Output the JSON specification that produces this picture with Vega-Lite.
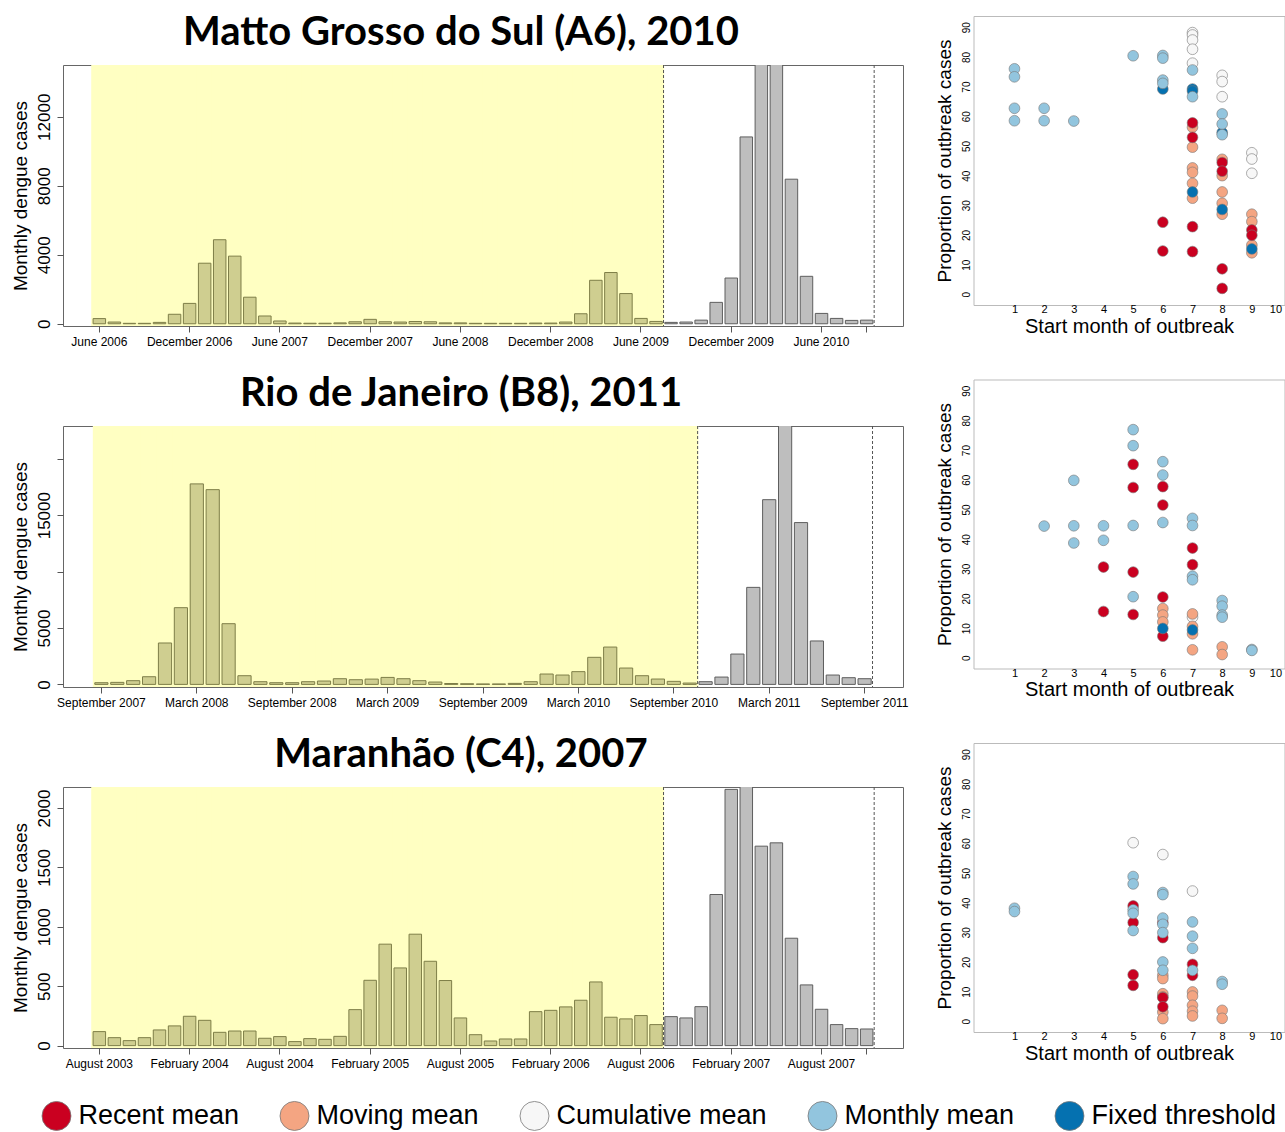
{
"$schema": "https://vega.github.io/schema/vega-lite/v6.json",
"padding": {"left": 10, "top": 13, "right": 0, "bottom": 0},
"background": "white",
"config": {
  "font": "Liberation Sans",
  "axis": {"labelFont": "Liberation Sans", "titleFont": "Liberation Sans", "labelColor": "black", "titleColor": "black", "titleFontWeight": "normal", "grid": false, "domain": false}
},
"datasets": {
"ms": [
{"month":"2006-06","cases":300,"period":"baseline"},{"month":"2006-07","cases":100,"period":"baseline"},{"month":"2006-08","cases":25,"period":"baseline"},{"month":"2006-09","cases":25,"period":"baseline"},{"month":"2006-10","cases":80,"period":"baseline"},{"month":"2006-11","cases":550,"period":"baseline"},{"month":"2006-12","cases":1180,"period":"baseline"},
{"month":"2007-01","cases":3510,"period":"baseline"},{"month":"2007-02","cases":4870,"period":"baseline"},{"month":"2007-03","cases":3920,"period":"baseline"},{"month":"2007-04","cases":1540,"period":"baseline"},{"month":"2007-05","cases":450,"period":"baseline"},{"month":"2007-06","cases":160,"period":"baseline"},{"month":"2007-07","cases":40,"period":"baseline"},{"month":"2007-08","cases":30,"period":"baseline"},{"month":"2007-09","cases":30,"period":"baseline"},{"month":"2007-10","cases":50,"period":"baseline"},{"month":"2007-11","cases":115,"period":"baseline"},{"month":"2007-12","cases":255,"period":"baseline"},
{"month":"2008-01","cases":115,"period":"baseline"},{"month":"2008-02","cases":100,"period":"baseline"},{"month":"2008-03","cases":130,"period":"baseline"},{"month":"2008-04","cases":115,"period":"baseline"},{"month":"2008-05","cases":50,"period":"baseline"},{"month":"2008-06","cases":50,"period":"baseline"},{"month":"2008-07","cases":25,"period":"baseline"},{"month":"2008-08","cases":25,"period":"baseline"},{"month":"2008-09","cases":25,"period":"baseline"},{"month":"2008-10","cases":25,"period":"baseline"},{"month":"2008-11","cases":40,"period":"baseline"},{"month":"2008-12","cases":40,"period":"baseline"},
{"month":"2009-01","cases":100,"period":"baseline"},{"month":"2009-02","cases":580,"period":"baseline"},{"month":"2009-03","cases":2520,"period":"baseline"},{"month":"2009-04","cases":2970,"period":"baseline"},{"month":"2009-05","cases":1750,"period":"baseline"},{"month":"2009-06","cases":310,"period":"baseline"},{"month":"2009-07","cases":135,"period":"baseline"},
{"month":"2009-08","cases":80,"period":"outbreak"},{"month":"2009-09","cases":100,"period":"outbreak"},{"month":"2009-10","cases":210,"period":"outbreak"},{"month":"2009-11","cases":1240,"period":"outbreak"},{"month":"2009-12","cases":2650,"period":"outbreak"},
{"month":"2010-01","cases":10830,"period":"outbreak"},{"month":"2010-02","cases":15600,"period":"outbreak"},{"month":"2010-03","cases":15900,"period":"outbreak"},{"month":"2010-04","cases":8380,"period":"outbreak"},{"month":"2010-05","cases":2750,"period":"outbreak"},{"month":"2010-06","cases":600,"period":"outbreak"},{"month":"2010-07","cases":310,"period":"outbreak"},{"month":"2010-08","cases":195,"period":"outbreak"},{"month":"2010-09","cases":210,"period":"outbreak"}
],
"rj": [
{"month":"2007-09","cases":150,"period":"baseline"},{"month":"2007-10","cases":180,"period":"baseline"},{"month":"2007-11","cases":330,"period":"baseline"},{"month":"2007-12","cases":680,"period":"baseline"},
{"month":"2008-01","cases":3670,"period":"baseline"},{"month":"2008-02","cases":6800,"period":"baseline"},{"month":"2008-03","cases":17770,"period":"baseline"},{"month":"2008-04","cases":17260,"period":"baseline"},{"month":"2008-05","cases":5380,"period":"baseline"},{"month":"2008-06","cases":770,"period":"baseline"},{"month":"2008-07","cases":240,"period":"baseline"},{"month":"2008-08","cases":150,"period":"baseline"},{"month":"2008-09","cases":150,"period":"baseline"},{"month":"2008-10","cases":240,"period":"baseline"},{"month":"2008-11","cases":300,"period":"baseline"},{"month":"2008-12","cases":505,"period":"baseline"},
{"month":"2009-01","cases":415,"period":"baseline"},{"month":"2009-02","cases":470,"period":"baseline"},{"month":"2009-03","cases":620,"period":"baseline"},{"month":"2009-04","cases":505,"period":"baseline"},{"month":"2009-05","cases":330,"period":"baseline"},{"month":"2009-06","cases":210,"period":"baseline"},{"month":"2009-07","cases":80,"period":"baseline"},{"month":"2009-08","cases":60,"period":"baseline"},{"month":"2009-09","cases":40,"period":"baseline"},{"month":"2009-10","cases":40,"period":"baseline"},{"month":"2009-11","cases":90,"period":"baseline"},{"month":"2009-12","cases":240,"period":"baseline"},
{"month":"2010-01","cases":920,"period":"baseline"},{"month":"2010-02","cases":830,"period":"baseline"},{"month":"2010-03","cases":1130,"period":"baseline"},{"month":"2010-04","cases":2400,"period":"baseline"},{"month":"2010-05","cases":3310,"period":"baseline"},{"month":"2010-06","cases":1450,"period":"baseline"},{"month":"2010-07","cases":770,"period":"baseline"},{"month":"2010-08","cases":475,"period":"baseline"},{"month":"2010-09","cases":270,"period":"baseline"},{"month":"2010-10","cases":120,"period":"baseline"},
{"month":"2010-11","cases":240,"period":"outbreak"},{"month":"2010-12","cases":650,"period":"outbreak"},
{"month":"2011-01","cases":2690,"period":"outbreak"},{"month":"2011-02","cases":8600,"period":"outbreak"},{"month":"2011-03","cases":16370,"period":"outbreak"},{"month":"2011-04","cases":23500,"period":"outbreak"},{"month":"2011-05","cases":14340,"period":"outbreak"},{"month":"2011-06","cases":3850,"period":"outbreak"},{"month":"2011-07","cases":830,"period":"outbreak"},{"month":"2011-08","cases":595,"period":"outbreak"},{"month":"2011-09","cases":505,"period":"outbreak"}
],
"ma": [
{"month":"2003-08","cases":118,"period":"baseline"},{"month":"2003-09","cases":67,"period":"baseline"},{"month":"2003-10","cases":42,"period":"baseline"},{"month":"2003-11","cases":67,"period":"baseline"},{"month":"2003-12","cases":132,"period":"baseline"},
{"month":"2004-01","cases":166,"period":"baseline"},{"month":"2004-02","cases":247,"period":"baseline"},{"month":"2004-03","cases":213,"period":"baseline"},{"month":"2004-04","cases":112,"period":"baseline"},{"month":"2004-05","cases":123,"period":"baseline"},{"month":"2004-06","cases":123,"period":"baseline"},{"month":"2004-07","cases":62,"period":"baseline"},{"month":"2004-08","cases":76,"period":"baseline"},{"month":"2004-09","cases":34,"period":"baseline"},{"month":"2004-10","cases":59,"period":"baseline"},{"month":"2004-11","cases":53,"period":"baseline"},{"month":"2004-12","cases":78,"period":"baseline"},
{"month":"2005-01","cases":303,"period":"baseline"},{"month":"2005-02","cases":550,"period":"baseline"},{"month":"2005-03","cases":854,"period":"baseline"},{"month":"2005-04","cases":654,"period":"baseline"},{"month":"2005-05","cases":938,"period":"baseline"},{"month":"2005-06","cases":710,"period":"baseline"},{"month":"2005-07","cases":548,"period":"baseline"},{"month":"2005-08","cases":233,"period":"baseline"},{"month":"2005-09","cases":92,"period":"baseline"},{"month":"2005-10","cases":39,"period":"baseline"},{"month":"2005-11","cases":56,"period":"baseline"},{"month":"2005-12","cases":56,"period":"baseline"},
{"month":"2006-01","cases":286,"period":"baseline"},{"month":"2006-02","cases":297,"period":"baseline"},{"month":"2006-03","cases":326,"period":"baseline"},{"month":"2006-04","cases":382,"period":"baseline"},{"month":"2006-05","cases":536,"period":"baseline"},{"month":"2006-06","cases":239,"period":"baseline"},{"month":"2006-07","cases":225,"period":"baseline"},{"month":"2006-08","cases":253,"period":"baseline"},{"month":"2006-09","cases":177,"period":"baseline"},
{"month":"2006-10","cases":244,"period":"outbreak"},{"month":"2006-11","cases":233,"period":"outbreak"},{"month":"2006-12","cases":328,"period":"outbreak"},
{"month":"2007-01","cases":1272,"period":"outbreak"},{"month":"2007-02","cases":2157,"period":"outbreak"},{"month":"2007-03","cases":2250,"period":"outbreak"},{"month":"2007-04","cases":1679,"period":"outbreak"},{"month":"2007-05","cases":1707,"period":"outbreak"},{"month":"2007-06","cases":904,"period":"outbreak"},{"month":"2007-07","cases":511,"period":"outbreak"},{"month":"2007-08","cases":306,"period":"outbreak"},{"month":"2007-09","cases":177,"period":"outbreak"},{"month":"2007-10","cases":143,"period":"outbreak"},{"month":"2007-11","cases":140,"period":"outbreak"}
],
"ms_pts": [
{"start_month":7,"pct":88.2,"method":"Cumulative mean"},{"start_month":7,"pct":87.4,"method":"Cumulative mean"},{"start_month":7,"pct":85.7,"method":"Cumulative mean"},{"start_month":7,"pct":82.6,"method":"Cumulative mean"},{"start_month":7,"pct":77.9,"method":"Cumulative mean"},{"start_month":8,"pct":73.8,"method":"Cumulative mean"},{"start_month":8,"pct":71.7,"method":"Cumulative mean"},{"start_month":8,"pct":66.6,"method":"Cumulative mean"},{"start_month":9,"pct":47.7,"method":"Cumulative mean"},{"start_month":9,"pct":45.6,"method":"Cumulative mean"},{"start_month":9,"pct":40.8,"method":"Cumulative mean"},
{"start_month":7,"pct":56.3,"method":"Moving mean"},{"start_month":7,"pct":49.6,"method":"Moving mean"},{"start_month":7,"pct":42.6,"method":"Moving mean"},{"start_month":7,"pct":41.1,"method":"Moving mean"},{"start_month":7,"pct":37.4,"method":"Moving mean"},{"start_month":7,"pct":32.4,"method":"Moving mean"},{"start_month":8,"pct":45.5,"method":"Moving mean"},{"start_month":8,"pct":40.0,"method":"Moving mean"},{"start_month":8,"pct":34.5,"method":"Moving mean"},{"start_month":8,"pct":30.7,"method":"Moving mean"},{"start_month":8,"pct":27.0,"method":"Moving mean"},{"start_month":9,"pct":27.0,"method":"Moving mean"},{"start_month":9,"pct":24.5,"method":"Moving mean"},{"start_month":9,"pct":16.6,"method":"Moving mean"},{"start_month":9,"pct":14.0,"method":"Moving mean"},
{"start_month":6,"pct":24.3,"method":"Recent mean"},{"start_month":6,"pct":14.6,"method":"Recent mean"},{"start_month":7,"pct":57.8,"method":"Recent mean"},{"start_month":7,"pct":52.9,"method":"Recent mean"},{"start_month":7,"pct":22.8,"method":"Recent mean"},{"start_month":7,"pct":14.4,"method":"Recent mean"},{"start_month":8,"pct":44.4,"method":"Recent mean"},{"start_month":8,"pct":41.5,"method":"Recent mean"},{"start_month":8,"pct":8.6,"method":"Recent mean"},{"start_month":8,"pct":2.0,"method":"Recent mean"},{"start_month":9,"pct":21.7,"method":"Recent mean"},{"start_month":9,"pct":19.9,"method":"Recent mean"},
{"start_month":6,"pct":69.2,"method":"Fixed threshold"},{"start_month":7,"pct":69.2,"method":"Fixed threshold"},{"start_month":7,"pct":68.5,"method":"Fixed threshold"},{"start_month":7,"pct":34.5,"method":"Fixed threshold"},{"start_month":8,"pct":54.5,"method":"Fixed threshold"},{"start_month":8,"pct":28.6,"method":"Fixed threshold"},{"start_month":9,"pct":15.3,"method":"Fixed threshold"},
{"start_month":1,"pct":76.0,"method":"Monthly mean"},{"start_month":1,"pct":73.3,"method":"Monthly mean"},{"start_month":1,"pct":62.7,"method":"Monthly mean"},{"start_month":1,"pct":58.5,"method":"Monthly mean"},{"start_month":2,"pct":62.7,"method":"Monthly mean"},{"start_month":2,"pct":58.5,"method":"Monthly mean"},{"start_month":3,"pct":58.4,"method":"Monthly mean"},{"start_month":5,"pct":80.4,"method":"Monthly mean"},{"start_month":6,"pct":80.5,"method":"Monthly mean"},{"start_month":6,"pct":79.6,"method":"Monthly mean"},{"start_month":6,"pct":72.2,"method":"Monthly mean"},{"start_month":6,"pct":71.1,"method":"Monthly mean"},{"start_month":7,"pct":75.6,"method":"Monthly mean"},{"start_month":7,"pct":66.6,"method":"Monthly mean"},{"start_month":8,"pct":60.8,"method":"Monthly mean"},{"start_month":8,"pct":57.4,"method":"Monthly mean"},{"start_month":8,"pct":53.8,"method":"Monthly mean"}
],
"rj_pts": [
{"start_month":7,"pct":13.7,"method":"Cumulative mean"},
{"start_month":6,"pct":16.6,"method":"Moving mean"},{"start_month":6,"pct":14.4,"method":"Moving mean"},{"start_month":6,"pct":12.1,"method":"Moving mean"},{"start_month":7,"pct":14.8,"method":"Moving mean"},{"start_month":7,"pct":10.6,"method":"Moving mean"},{"start_month":7,"pct":8.1,"method":"Moving mean"},{"start_month":7,"pct":2.7,"method":"Moving mean"},{"start_month":8,"pct":3.7,"method":"Moving mean"},{"start_month":8,"pct":1.1,"method":"Moving mean"},
{"start_month":4,"pct":30.6,"method":"Recent mean"},{"start_month":4,"pct":15.6,"method":"Recent mean"},{"start_month":5,"pct":65.2,"method":"Recent mean"},{"start_month":5,"pct":57.4,"method":"Recent mean"},{"start_month":5,"pct":28.9,"method":"Recent mean"},{"start_month":5,"pct":14.6,"method":"Recent mean"},{"start_month":6,"pct":57.7,"method":"Recent mean"},{"start_month":6,"pct":51.5,"method":"Recent mean"},{"start_month":6,"pct":20.5,"method":"Recent mean"},{"start_month":6,"pct":7.3,"method":"Recent mean"},{"start_month":7,"pct":37.0,"method":"Recent mean"},{"start_month":7,"pct":31.4,"method":"Recent mean"},
{"start_month":6,"pct":9.9,"method":"Fixed threshold"},{"start_month":7,"pct":9.4,"method":"Fixed threshold"},
{"start_month":2,"pct":44.4,"method":"Monthly mean"},{"start_month":3,"pct":59.8,"method":"Monthly mean"},{"start_month":3,"pct":44.5,"method":"Monthly mean"},{"start_month":3,"pct":38.7,"method":"Monthly mean"},{"start_month":4,"pct":44.5,"method":"Monthly mean"},{"start_month":4,"pct":39.6,"method":"Monthly mean"},{"start_month":5,"pct":76.9,"method":"Monthly mean"},{"start_month":5,"pct":71.5,"method":"Monthly mean"},{"start_month":5,"pct":44.6,"method":"Monthly mean"},{"start_month":5,"pct":20.6,"method":"Monthly mean"},{"start_month":6,"pct":66.1,"method":"Monthly mean"},{"start_month":6,"pct":61.6,"method":"Monthly mean"},{"start_month":6,"pct":45.6,"method":"Monthly mean"},{"start_month":7,"pct":47.0,"method":"Monthly mean"},{"start_month":7,"pct":44.6,"method":"Monthly mean"},{"start_month":7,"pct":27.5,"method":"Monthly mean"},{"start_month":7,"pct":26.3,"method":"Monthly mean"},{"start_month":8,"pct":19.3,"method":"Monthly mean"},{"start_month":8,"pct":17.4,"method":"Monthly mean"},{"start_month":8,"pct":14.4,"method":"Monthly mean"},{"start_month":8,"pct":13.7,"method":"Monthly mean"},{"start_month":9,"pct":2.8,"method":"Monthly mean"},{"start_month":9,"pct":2.5,"method":"Monthly mean"}
],
"ma_pts": [
{"start_month":5,"pct":60.2,"method":"Cumulative mean"},{"start_month":6,"pct":56.2,"method":"Cumulative mean"},{"start_month":7,"pct":43.9,"method":"Cumulative mean"},
{"start_month":6,"pct":15.5,"method":"Moving mean"},{"start_month":6,"pct":14.4,"method":"Moving mean"},{"start_month":6,"pct":9.3,"method":"Moving mean"},{"start_month":6,"pct":8.2,"method":"Moving mean"},{"start_month":6,"pct":3.1,"method":"Moving mean"},{"start_month":6,"pct":0.9,"method":"Moving mean"},{"start_month":7,"pct":9.9,"method":"Moving mean"},{"start_month":7,"pct":8.5,"method":"Moving mean"},{"start_month":7,"pct":5.4,"method":"Moving mean"},{"start_month":7,"pct":3.4,"method":"Moving mean"},{"start_month":7,"pct":1.8,"method":"Moving mean"},{"start_month":8,"pct":3.7,"method":"Moving mean"},{"start_month":8,"pct":1.0,"method":"Moving mean"},
{"start_month":5,"pct":38.9,"method":"Recent mean"},{"start_month":5,"pct":33.3,"method":"Recent mean"},{"start_month":5,"pct":15.7,"method":"Recent mean"},{"start_month":5,"pct":12.1,"method":"Recent mean"},{"start_month":6,"pct":33.3,"method":"Recent mean"},{"start_month":6,"pct":28.2,"method":"Recent mean"},{"start_month":6,"pct":8.0,"method":"Recent mean"},{"start_month":6,"pct":4.9,"method":"Recent mean"},{"start_month":7,"pct":19.2,"method":"Recent mean"},{"start_month":7,"pct":15.5,"method":"Recent mean"},
{"start_month":1,"pct":38.1,"method":"Monthly mean"},{"start_month":1,"pct":37.0,"method":"Monthly mean"},{"start_month":5,"pct":48.8,"method":"Monthly mean"},{"start_month":5,"pct":46.3,"method":"Monthly mean"},{"start_month":5,"pct":37.6,"method":"Monthly mean"},{"start_month":5,"pct":36.4,"method":"Monthly mean"},{"start_month":5,"pct":30.6,"method":"Monthly mean"},{"start_month":6,"pct":43.4,"method":"Monthly mean"},{"start_month":6,"pct":42.7,"method":"Monthly mean"},{"start_month":6,"pct":34.8,"method":"Monthly mean"},{"start_month":6,"pct":32.7,"method":"Monthly mean"},{"start_month":6,"pct":29.9,"method":"Monthly mean"},{"start_month":6,"pct":20.0,"method":"Monthly mean"},{"start_month":6,"pct":17.2,"method":"Monthly mean"},{"start_month":7,"pct":33.5,"method":"Monthly mean"},{"start_month":7,"pct":28.7,"method":"Monthly mean"},{"start_month":7,"pct":24.6,"method":"Monthly mean"},{"start_month":7,"pct":17.2,"method":"Monthly mean"},{"start_month":8,"pct":13.4,"method":"Monthly mean"},{"start_month":8,"pct":12.5,"method":"Monthly mean"}
]
},
"spacing": 25.5,
"hconcat": [
{
"spacing": 26,
"vconcat": [
{
"spacing": 8,
"vconcat": [
{
  "width": 840, "height": 40, "view": {"stroke": null},
  "data": {"values": [{"title": "Matto Grosso do Sul (A6), 2010"}]},
  "mark": {"type": "text", "font": "Lato", "fontWeight": "bold", "fontSize": 40, "color": "black", "align": "center", "baseline": "middle", "dx": -22, "dy": -3},
  "encoding": {"text": {"field": "title", "type": "nominal"}}
},
{
  "width": 840, "height": 261,
  "view": {"stroke": "#666666", "strokeWidth": 1},
  "data": {"name": "ms"},
  "encoding": {
    "x": {"field": "month", "type": "ordinal", "title": null,
      "scale": {"type": "band", "paddingInner": 0.17, "paddingOuter": 1, "domain": ["2006-05","2006-06","2006-07","2006-08","2006-09","2006-10","2006-11","2006-12","2007-01","2007-02","2007-03","2007-04","2007-05","2007-06","2007-07","2007-08","2007-09","2007-10","2007-11","2007-12","2008-01","2008-02","2008-03","2008-04","2008-05","2008-06","2008-07","2008-08","2008-09","2008-10","2008-11","2008-12","2009-01","2009-02","2009-03","2009-04","2009-05","2009-06","2009-07","2009-08","2009-09","2009-10","2009-11","2009-12","2010-01","2010-02","2010-03","2010-04","2010-05","2010-06","2010-07","2010-08","2010-09","2010-10"]},
      "axis": {"values": ["2006-06","2006-12","2007-06","2007-12","2008-06","2008-12","2009-06","2009-12","2010-06","2010-09"], "labelExpr": "datum.value == '2010-09' ? '' : utcFormat(toDate(datum.value + '-01'), '%B %Y')", "labelAngle": 0, "labelFontSize": 12, "labelPadding": 4, "tickSize": 6, "tickColor": "#555555", "labelOverlap": false}}
  },
  "layer": [
    {"transform": [{"filter": "datum.period == 'baseline'"}], "mark": {"type": "bar", "fill": "#FFFFC2", "width": {"band": 1.3}},
     "encoding": {"y": {"datum": 15000, "type": "quantitative", "scale": {"domain": [-130, 15000], "nice": false, "zero": false}}, "y2": {"datum": -130}}},
    {"mark": {"type": "bar", "clip": true, "strokeWidth": 1},
     "encoding": {
       "y": {"field": "cases", "type": "quantitative", "scale": {"domain": [-130, 15000], "nice": false, "zero": false},
         "axis": {"values": [0,2000,4000,6000,8000,10000,12000,14000], "format": "d", "labelExpr": "datum.value % 4000 == 0 ? datum.label : ''", "labelAngle": 270, "labelAlign": "center", "labelBaseline": "bottom", "labelFontSize": 17, "labelPadding": 4, "tickSize": 6, "tickColor": "#555555", "minExtent": 27, "maxExtent": 27, "title": "Monthly dengue cases", "titleFontSize": 19, "titlePadding": 6}},
       "fill": {"field": "period", "type": "nominal", "scale": {"domain": ["baseline","outbreak"], "range": ["#CFCE90","#BEBEBE"]}, "legend": null},
       "stroke": {"field": "period", "type": "nominal", "scale": {"domain": ["baseline","outbreak"], "range": ["#7E7E48","#5E5E5E"]}, "legend": null}
     }},
    {"transform": [{"filter": {"field": "month", "oneOf": ["2009-07","2010-09"]}}], "mark": {"type": "rule", "strokeDash": [3,2], "color": "#555555", "strokeWidth": 1},
     "encoding": {"x": {"field": "month", "type": "ordinal", "title": null, "bandPosition": 1.1}}}
  ]
}
]
},
{
"spacing": 8,
"vconcat": [
{
  "width": 840, "height": 40, "view": {"stroke": null},
  "data": {"values": [{"title": "Rio de Janeiro (B8), 2011"}]},
  "mark": {"type": "text", "font": "Lato", "fontWeight": "bold", "fontSize": 40, "color": "black", "align": "center", "baseline": "middle", "dx": -22, "dy": -3},
  "encoding": {"text": {"field": "title", "type": "nominal"}}
},
{
  "width": 840, "height": 261,
  "view": {"stroke": "#666666", "strokeWidth": 1},
  "data": {"name": "rj"},
  "encoding": {
    "x": {"field": "month", "type": "ordinal", "title": null,
      "scale": {"type": "band", "paddingInner": 0.17, "paddingOuter": 1, "domain": ["2007-08","2007-09","2007-10","2007-11","2007-12","2008-01","2008-02","2008-03","2008-04","2008-05","2008-06","2008-07","2008-08","2008-09","2008-10","2008-11","2008-12","2009-01","2009-02","2009-03","2009-04","2009-05","2009-06","2009-07","2009-08","2009-09","2009-10","2009-11","2009-12","2010-01","2010-02","2010-03","2010-04","2010-05","2010-06","2010-07","2010-08","2010-09","2010-10","2010-11","2010-12","2011-01","2011-02","2011-03","2011-04","2011-05","2011-06","2011-07","2011-08","2011-09","2011-10"]},
      "axis": {"values": ["2007-09","2008-03","2008-09","2009-03","2009-09","2010-03","2010-09","2011-03","2011-09"], "labelExpr": "utcFormat(toDate(datum.value + '-01'), '%B %Y')", "labelAngle": 0, "labelFontSize": 12, "labelPadding": 4, "tickSize": 6, "tickColor": "#555555", "labelOverlap": false}}
  },
  "layer": [
    {"transform": [{"filter": "datum.period == 'baseline'"}], "mark": {"type": "bar", "fill": "#FFFFC2", "width": {"band": 1.3}},
     "encoding": {"y": {"datum": 22900, "type": "quantitative", "scale": {"domain": [-230, 22900], "nice": false, "zero": false}}, "y2": {"datum": -230}}},
    {"mark": {"type": "bar", "clip": true, "strokeWidth": 1},
     "encoding": {
       "y": {"field": "cases", "type": "quantitative", "scale": {"domain": [-230, 22900], "nice": false, "zero": false},
         "axis": {"values": [0,5000,10000,15000,20000], "format": "d", "labelExpr": "datum.value == 10000 || datum.value == 20000 ? '' : datum.label", "labelAngle": 270, "labelAlign": "center", "labelBaseline": "bottom", "labelFontSize": 17, "labelPadding": 4, "tickSize": 6, "tickColor": "#555555", "minExtent": 27, "maxExtent": 27, "title": "Monthly dengue cases", "titleFontSize": 19, "titlePadding": 6}},
       "fill": {"field": "period", "type": "nominal", "scale": {"domain": ["baseline","outbreak"], "range": ["#CFCE90","#BEBEBE"]}, "legend": null},
       "stroke": {"field": "period", "type": "nominal", "scale": {"domain": ["baseline","outbreak"], "range": ["#7E7E48","#5E5E5E"]}, "legend": null}
     }},
    {"transform": [{"filter": {"field": "month", "oneOf": ["2010-10","2011-09"]}}], "mark": {"type": "rule", "strokeDash": [3,2], "color": "#555555", "strokeWidth": 1},
     "encoding": {"x": {"field": "month", "type": "ordinal", "title": null, "bandPosition": 1.1}}}
  ]
}
]
},
{
"spacing": 8,
"vconcat": [
{
  "width": 840, "height": 40, "view": {"stroke": null},
  "data": {"values": [{"title": "Maranhão (C4), 2007"}]},
  "mark": {"type": "text", "font": "Lato", "fontWeight": "bold", "fontSize": 40, "color": "black", "align": "center", "baseline": "middle", "dx": -22, "dy": -3},
  "encoding": {"text": {"field": "title", "type": "nominal"}}
},
{
  "width": 840, "height": 261,
  "view": {"stroke": "#666666", "strokeWidth": 1},
  "data": {"name": "ma"},
  "encoding": {
    "x": {"field": "month", "type": "ordinal", "title": null,
      "scale": {"type": "band", "paddingInner": 0.17, "paddingOuter": 1, "domain": ["2003-07","2003-08","2003-09","2003-10","2003-11","2003-12","2004-01","2004-02","2004-03","2004-04","2004-05","2004-06","2004-07","2004-08","2004-09","2004-10","2004-11","2004-12","2005-01","2005-02","2005-03","2005-04","2005-05","2005-06","2005-07","2005-08","2005-09","2005-10","2005-11","2005-12","2006-01","2006-02","2006-03","2006-04","2006-05","2006-06","2006-07","2006-08","2006-09","2006-10","2006-11","2006-12","2007-01","2007-02","2007-03","2007-04","2007-05","2007-06","2007-07","2007-08","2007-09","2007-10","2007-11","2007-12"]},
      "axis": {"values": ["2003-08","2004-02","2004-08","2005-02","2005-08","2006-02","2006-08","2007-02","2007-08","2007-11"], "labelExpr": "datum.value == '2007-11' ? '' : utcFormat(toDate(datum.value + '-01'), '%B %Y')", "labelAngle": 0, "labelFontSize": 12, "labelPadding": 4, "tickSize": 6, "tickColor": "#555555", "labelOverlap": false}}
  },
  "layer": [
    {"transform": [{"filter": "datum.period == 'baseline'"}], "mark": {"type": "bar", "fill": "#FFFFC2", "width": {"band": 1.3}},
     "encoding": {"y": {"datum": 2177, "type": "quantitative", "scale": {"domain": [-20, 2177], "nice": false, "zero": false}}, "y2": {"datum": -20}}},
    {"mark": {"type": "bar", "clip": true, "strokeWidth": 1},
     "encoding": {
       "y": {"field": "cases", "type": "quantitative", "scale": {"domain": [-20, 2177], "nice": false, "zero": false},
         "axis": {"values": [0,500,1000,1500,2000], "format": "d", "labelAngle": 270, "labelAlign": "center", "labelBaseline": "bottom", "labelFontSize": 17, "labelPadding": 4, "tickSize": 6, "tickColor": "#555555", "minExtent": 27, "maxExtent": 27, "title": "Monthly dengue cases", "titleFontSize": 19, "titlePadding": 6}},
       "fill": {"field": "period", "type": "nominal", "scale": {"domain": ["baseline","outbreak"], "range": ["#CFCE90","#BEBEBE"]}, "legend": null},
       "stroke": {"field": "period", "type": "nominal", "scale": {"domain": ["baseline","outbreak"], "range": ["#7E7E48","#5E5E5E"]}, "legend": null}
     }},
    {"transform": [{"filter": {"field": "month", "oneOf": ["2006-09","2007-11"]}}], "mark": {"type": "rule", "strokeDash": [3,2], "color": "#555555", "strokeWidth": 1},
     "encoding": {"x": {"field": "month", "type": "ordinal", "title": null, "bandPosition": 1.1}}}
  ]
}
]
}
]
},
{
"spacing": 41.5,
"vconcat": [
{
  "width": 311, "height": 289,
  "view": {"stroke": "#BBBBBB", "strokeWidth": 1},
  "data": {"name": "ms_pts"},
  "mark": {"type": "point", "filled": true, "shape": "circle", "size": 115, "opacity": 1, "stroke": "#777777", "strokeWidth": 0.6},
  "encoding": {
    "x": {"field": "start_month", "type": "quantitative", "scale": {"domain": [-0.38, 10.1], "nice": false, "zero": false},
      "axis": {"values": [1,2,3,4,5,6,7,8,9,10], "ticks": false, "labelPadding": -1.5, "labelFontSize": 11, "labelFlush": 4, "title": "Start month of outbreak", "titleFontSize": 20, "titlePadding": 1.5}},
    "y": {"field": "pct", "type": "quantitative", "scale": {"domain": [-3.6, 93.8], "nice": false, "zero": false},
      "axis": {"values": [0,10,20,30,40,50,60,70,80,90], "ticks": false, "labelAngle": 270, "labelAlign": "center", "labelBaseline": "bottom", "labelPadding": 2, "labelFontSize": 10, "minExtent": 12, "maxExtent": 12, "title": "Proportion of outbreak cases", "titleFontSize": 19, "titlePadding": 7}},
    "color": {"field": "method", "type": "nominal",
      "scale": {"domain": ["Recent mean","Moving mean","Cumulative mean","Monthly mean","Fixed threshold"], "range": ["#CA0020","#F4A582","#F7F7F7","#92C5DE","#0571B0"]},
      "legend": {"orient": "none", "legendX": -21.5, "legendY": 1084.5, "direction": "horizontal", "title": null, "symbolType": "circle", "symbolSize": 840, "symbolStrokeColor": "#777777", "symbolStrokeWidth": 0.8, "symbolOpacity": 1, "labelFontSize": 27, "labelFont": "Liberation Sans", "labelColor": "black", "labelOffset": 7, "columnPadding": 38, "padding": 0, "labelLimit": 400}}
  }
},
{
  "width": 311, "height": 289,
  "view": {"stroke": "#BBBBBB", "strokeWidth": 1},
  "data": {"name": "rj_pts"},
  "mark": {"type": "point", "filled": true, "shape": "circle", "size": 115, "opacity": 1, "stroke": "#777777", "strokeWidth": 0.6},
  "encoding": {
    "x": {"field": "start_month", "type": "quantitative", "scale": {"domain": [-0.38, 10.1], "nice": false, "zero": false},
      "axis": {"values": [1,2,3,4,5,6,7,8,9,10], "ticks": false, "labelPadding": -1.5, "labelFontSize": 11, "labelFlush": 4, "title": "Start month of outbreak", "titleFontSize": 20, "titlePadding": 1.5}},
    "y": {"field": "pct", "type": "quantitative", "scale": {"domain": [-3.6, 93.8], "nice": false, "zero": false},
      "axis": {"values": [0,10,20,30,40,50,60,70,80,90], "ticks": false, "labelAngle": 270, "labelAlign": "center", "labelBaseline": "bottom", "labelPadding": 2, "labelFontSize": 10, "minExtent": 12, "maxExtent": 12, "title": "Proportion of outbreak cases", "titleFontSize": 19, "titlePadding": 7}},
    "color": {"field": "method", "type": "nominal",
      "scale": {"domain": ["Recent mean","Moving mean","Cumulative mean","Monthly mean","Fixed threshold"], "range": ["#CA0020","#F4A582","#F7F7F7","#92C5DE","#0571B0"]},
      "legend": {"orient": "none", "legendX": -21.5, "legendY": 1084.5, "direction": "horizontal", "title": null, "symbolType": "circle", "symbolSize": 840, "symbolStrokeColor": "#777777", "symbolStrokeWidth": 0.8, "symbolOpacity": 1, "labelFontSize": 27, "labelFont": "Liberation Sans", "labelColor": "black", "labelOffset": 7, "columnPadding": 38, "padding": 0, "labelLimit": 400}}
  }
},
{
  "width": 311, "height": 289,
  "view": {"stroke": "#BBBBBB", "strokeWidth": 1},
  "data": {"name": "ma_pts"},
  "mark": {"type": "point", "filled": true, "shape": "circle", "size": 115, "opacity": 1, "stroke": "#777777", "strokeWidth": 0.6},
  "encoding": {
    "x": {"field": "start_month", "type": "quantitative", "scale": {"domain": [-0.38, 10.1], "nice": false, "zero": false},
      "axis": {"values": [1,2,3,4,5,6,7,8,9,10], "ticks": false, "labelPadding": -1.5, "labelFontSize": 11, "labelFlush": 4, "title": "Start month of outbreak", "titleFontSize": 20, "titlePadding": 1.5}},
    "y": {"field": "pct", "type": "quantitative", "scale": {"domain": [-3.6, 93.8], "nice": false, "zero": false},
      "axis": {"values": [0,10,20,30,40,50,60,70,80,90], "ticks": false, "labelAngle": 270, "labelAlign": "center", "labelBaseline": "bottom", "labelPadding": 2, "labelFontSize": 10, "minExtent": 12, "maxExtent": 12, "title": "Proportion of outbreak cases", "titleFontSize": 19, "titlePadding": 7}},
    "color": {"field": "method", "type": "nominal",
      "scale": {"domain": ["Recent mean","Moving mean","Cumulative mean","Monthly mean","Fixed threshold"], "range": ["#CA0020","#F4A582","#F7F7F7","#92C5DE","#0571B0"]},
      "legend": {"orient": "none", "legendX": -21.5, "legendY": 1084.5, "direction": "horizontal", "title": null, "symbolType": "circle", "symbolSize": 840, "symbolStrokeColor": "#777777", "symbolStrokeWidth": 0.8, "symbolOpacity": 1, "labelFontSize": 27, "labelFont": "Liberation Sans", "labelColor": "black", "labelOffset": 7, "columnPadding": 38, "padding": 0, "labelLimit": 400}}
  }
}
]
}
]
}
